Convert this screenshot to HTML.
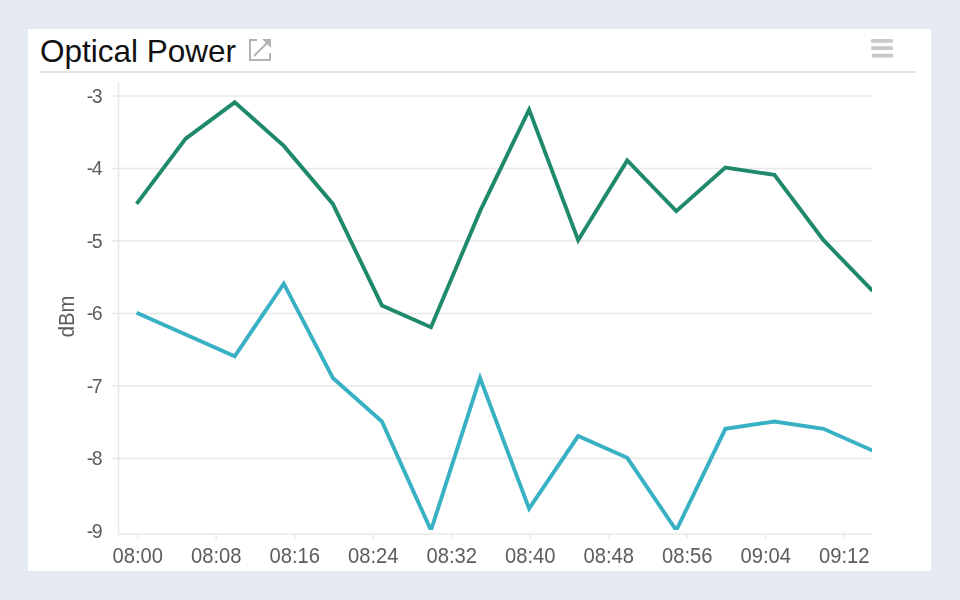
<!DOCTYPE html>
<html><head><meta charset="utf-8"><style>
html,body{margin:0;padding:0;}
body{width:960px;height:600px;background:#e5e9f2;position:relative;overflow:hidden;font-family:"Liberation Sans",sans-serif;}
.card{position:absolute;left:28px;top:29px;width:903px;height:542px;background:#fff;}
.title{position:absolute;left:40px;top:33px;font-size:31.5px;color:#111;line-height:36px;white-space:nowrap;}
.hr{position:absolute;left:40px;top:71px;width:876px;height:2px;background:#e1e1e1;}
svg{position:absolute;left:0;top:0;will-change:transform;}
</style></head><body>
<div class="card"></div>
<div class="title">Optical Power</div>
<div class="hr"></div>
<svg width="960" height="600" viewBox="0 0 960 600">
<defs><clipPath id="pc"><rect x="118" y="80" width="754" height="450"/></clipPath></defs>
<!-- export icon -->
<g fill="none" stroke="#b3b3b3" stroke-width="2">
<path d="M257,40 H250 V60 H270 V53"/>
<path d="M254,56 L268,42"/>
</g>
<path d="M262,39 H271 V48 Z" fill="#b3b3b3"/>
<!-- hamburger -->
<g fill="#c8c8c8">
<rect x="871" y="39" width="22" height="3.7" rx="1.2"/>
<rect x="871" y="46.3" width="22" height="3.7" rx="1.2"/>
<rect x="872" y="53.8" width="21" height="3.6" rx="1.2"/>
</g>
<g stroke="#e8e8e8" stroke-width="1.5" fill="none">
<line x1="112" y1="95.9" x2="872" y2="95.9" />
<line x1="112" y1="168.4" x2="872" y2="168.4" />
<line x1="112" y1="241.0" x2="872" y2="241.0" />
<line x1="112" y1="313.5" x2="872" y2="313.5" />
<line x1="112" y1="386.1" x2="872" y2="386.1" />
<line x1="112" y1="458.6" x2="872" y2="458.6" />

<line x1="118.5" y1="82" x2="118.5" y2="534.5"/>
<line x1="118" y1="534" x2="872" y2="534"/>
<line x1="137.7" y1="534" x2="137.7" y2="539" />
<line x1="216.2" y1="534" x2="216.2" y2="539" />
<line x1="294.7" y1="534" x2="294.7" y2="539" />
<line x1="373.2" y1="534" x2="373.2" y2="539" />
<line x1="451.7" y1="534" x2="451.7" y2="539" />
<line x1="530.2" y1="534" x2="530.2" y2="539" />
<line x1="608.7" y1="534" x2="608.7" y2="539" />
<line x1="687.2" y1="534" x2="687.2" y2="539" />
<line x1="765.7" y1="534" x2="765.7" y2="539" />
<line x1="844.2" y1="534" x2="844.2" y2="539" />

</g>
<g font-family="Liberation Sans" font-size="19.5" fill="#5c5c5c" text-anchor="end">
<text transform="translate(102.5,102.6) scale(1,1.06)">-<tspan dx="-1.5">3</tspan></text>
<text transform="translate(102.5,175.1) scale(1,1.06)">-<tspan dx="-1.5">4</tspan></text>
<text transform="translate(102.5,247.7) scale(1,1.06)">-<tspan dx="-1.5">5</tspan></text>
<text transform="translate(102.5,320.2) scale(1,1.06)">-<tspan dx="-1.5">6</tspan></text>
<text transform="translate(102.5,392.8) scale(1,1.06)">-<tspan dx="-1.5">7</tspan></text>
<text transform="translate(102.5,465.3) scale(1,1.06)">-<tspan dx="-1.5">8</tspan></text>
<text transform="translate(102.5,537.8) scale(1,1.06)">-<tspan dx="-1.5">9</tspan></text>

</g>
<g font-family="Liberation Sans" font-size="20.2" fill="#5c5c5c" text-anchor="middle">
<text transform="translate(137.7,563) scale(1,1.07)">08:00</text>
<text transform="translate(216.2,563) scale(1,1.07)">08:08</text>
<text transform="translate(294.7,563) scale(1,1.07)">08:16</text>
<text transform="translate(373.2,563) scale(1,1.07)">08:24</text>
<text transform="translate(451.7,563) scale(1,1.07)">08:32</text>
<text transform="translate(530.2,563) scale(1,1.07)">08:40</text>
<text transform="translate(608.7,563) scale(1,1.07)">08:48</text>
<text transform="translate(687.2,563) scale(1,1.07)">08:56</text>
<text transform="translate(765.7,563) scale(1,1.07)">09:04</text>
<text transform="translate(844.2,563) scale(1,1.07)">09:12</text>

</g>
<text transform="translate(74,316.5) rotate(-90) scale(1,1.13)" font-family="Liberation Sans" font-size="20.2" fill="#5c5c5c" text-anchor="middle">dBm</text>
<g clip-path="url(#pc)" fill="none" stroke-width="3.9" stroke-linejoin="miter" stroke-miterlimit="10" stroke-linecap="butt">
<polyline points="136.60,203.91 185.66,138.62 234.72,102.35 283.79,145.88 332.85,203.91 381.91,305.47 430.98,327.23 480.04,211.16 529.10,109.61 578.16,240.18 627.23,160.39 676.29,211.16 725.35,167.64 774.41,174.89 823.48,240.18 872.54,290.96" stroke="#1f896b"/>
<polyline points="136.60,312.72 185.66,334.48 234.72,356.24 283.79,283.70 332.85,378.01 381.91,421.53 430.98,530.34 480.04,378.01 529.10,508.58 578.16,436.04 627.23,457.80 676.29,530.34 725.35,428.78 774.41,421.53 823.48,428.78 872.54,450.55" stroke="#38b1c4"/>
</g>
</svg>
</body></html>
